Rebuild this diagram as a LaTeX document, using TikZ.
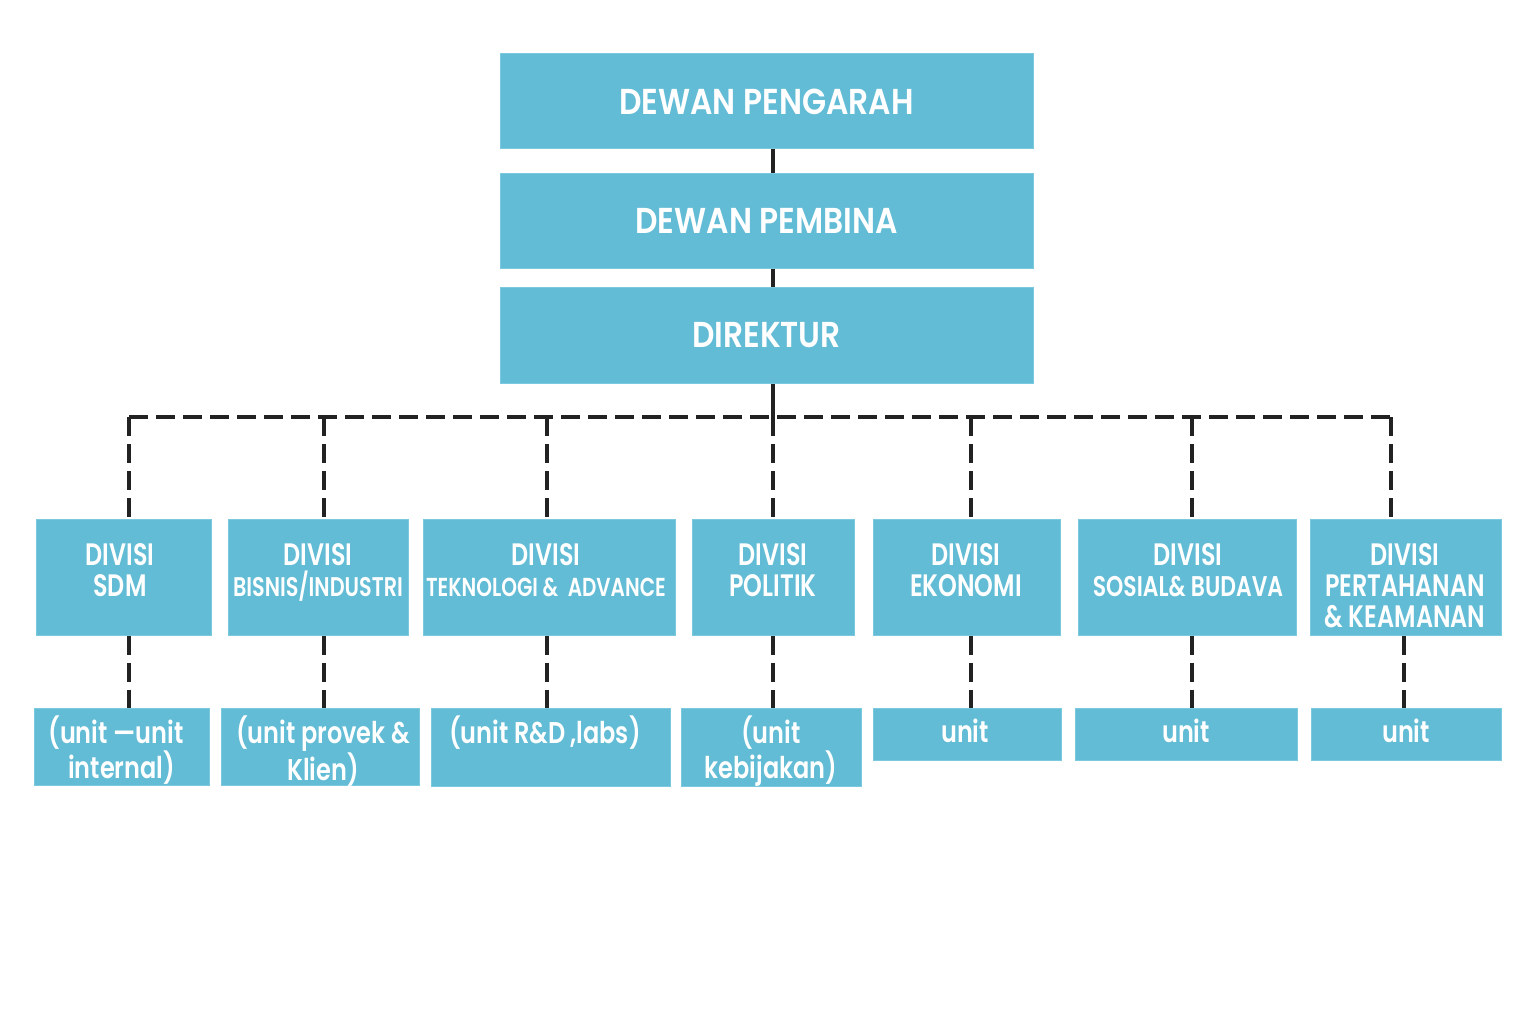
\documentclass[tikz,border=0pt]{standalone}
\usepackage{fontspec}
\setmainfont{Poppins}
\newfontfamily\titlefont[FakeStretch=0.87]{Poppins SemiBold}
\newfontfamily\divfont[FakeStretch=0.77]{Poppins SemiBold}
\newfontfamily\unitfont[FakeStretch=0.8]{Poppins SemiBold}
\definecolor{boxfill}{HTML}{62BCD5}
\definecolor{boxedge}{HTML}{7BC9DE}
\definecolor{linecol}{HTML}{222222}
\begin{document}
\begin{tikzpicture}[x=1pt,y=1pt,
  box/.style={fill=boxfill,draw=boxedge,line width=1pt,inner sep=0pt,text=white},
  titlebox/.style={box,minimum width=533pt,minimum height=95pt,font=\titlefont\fontsize{36}{40}\selectfont},
  divtext/.style={anchor=north,inner sep=0pt,text=white,align=center,font=\divfont\fontsize{31}{31}\selectfont},
  unittext/.style={anchor=north,inner sep=0pt,text=white,align=center,font=\unitfont\fontsize{30}{32}\selectfont},
  solidline/.style={draw=linecol,line width=3.5pt},
  dashline/.style={draw=linecol,line width=3.5pt,dash pattern=on 19pt off 8pt},
]
\useasboundingbox[fill=white] (0,0) rectangle (1536,-1024);
% top boxes
\node[titlebox] (peng) at (766.5,-101.5) {DEWAN PENGARAH};
\node[titlebox] (pemb) at (766.5,-221) {DEWAN PEMBINA};
\node[titlebox] (dir) at (766.5,-335.5) {DIREKTUR};
% division boxes
\node[box,minimum width=175pt,minimum height=116pt] (d1) at (123.5,-577) {};
\node[box,minimum width=180pt,minimum height=116pt] (d2) at (318,-577) {};
\node[box,minimum width=252pt,minimum height=116pt] (d3) at (549,-577) {};
\node[box,minimum width=162pt,minimum height=116pt] (d4) at (773,-577) {};
\node[box,minimum width=187pt,minimum height=116pt] (d5) at (966.5,-577) {};
\node[box,minimum width=218pt,minimum height=116pt] (d6) at (1187,-577) {};
\node[box,minimum width=191pt,minimum height=116pt] (d7) at (1405.5,-577) {};
% division texts
\node[divtext] (t1) at (120,-543) {DIVISI\\SDM};
\node[divtext] (t2) at (318,-543) {DIVISI\\{\fontsize{27}{31}\selectfont BISNIS/INDUSTRI}};
\node[divtext] (t3) at (546,-543) {DIVISI\\{\fontsize{26}{31}\selectfont TEKNOLOGI \& \ ADVANCE}};
\node[divtext] (t4) at (773,-543) {DIVISI\\POLITIK};
\node[divtext] (t5) at (966,-543) {DIVISI\\EKONOMI};
\node[divtext] (t6) at (1188,-543) {DIVISI\\{\fontsize{28.5}{31}\selectfont SOSIAL\& BUDAVA}};
\node[divtext] (t7) at (1405,-543) {DIVISI\\PERTAHANAN\\\& KEAMANAN};
% unit boxes
\node[box,minimum width=175pt,minimum height=77pt] (u1) at (121.5,-746.5) {};
\node[box,minimum width=198pt,minimum height=77pt] (u2) at (320,-746.5) {};
\node[box,minimum width=239pt,minimum height=78pt] (u3) at (550.5,-747) {};
\node[box,minimum width=180pt,minimum height=78pt] (u4) at (771,-747) {};
\node[box,minimum width=188pt,minimum height=52pt] (u5) at (967,-734) {};
\node[box,minimum width=222pt,minimum height=52pt] (u6) at (1186,-734) {};
\node[box,minimum width=190pt,minimum height=52pt] (u7) at (1406,-734) {};
% unit texts
\node[unittext] (ut1) at (116,-716) {(unit —unit\\\ \ internal)};
\node[unittext] (ut2) at (323,-716) {(unit provek \&\\Klien)};
\node[unittext] (ut3) at (545,-716) {(unit R\&D\,,labs)};
\node[unittext] (ut4) at (771,-716) {(unit\\kebijakan)};
\node[unittext] (ut5) at (965,-719) {unit};
\node[unittext] (ut6) at (1186,-719) {unit};
\node[unittext] (ut7) at (1406,-719) {unit};
% connector coordinates
\coordinate (trunk) at (773,-417);
\coordinate (b1) at (129,-417);
\coordinate (b2) at (324,-417);
\coordinate (b3) at (547,-417);
\coordinate (b4) at (773,-417);
\coordinate (b5) at (971,-417);
\coordinate (b6) at (1192,-417);
\coordinate (b7) at (1391,-417);
\coordinate (l7) at (1404,-417);
% solid connectors
\draw[solidline] (trunk |- peng.south) -- (trunk |- pemb.north);
\draw[solidline] (trunk |- pemb.south) -- (trunk |- dir.north);
\draw[solidline] (trunk |- dir.south) -- (trunk);
% dashed bus
\draw[dashline] (b1) -- (b7);
\foreach \i in {1,...,7}{
  \draw[dashline] (b\i) -- (b\i |- d\i.north);
}
\foreach \i in {1,...,6}{
  \draw[dashline] (b\i |- d\i.south) -- (b\i |- u\i.north);
}
\draw[dashline] (l7 |- d7.south) -- (l7 |- u7.north);
\end{tikzpicture}
\end{document}
